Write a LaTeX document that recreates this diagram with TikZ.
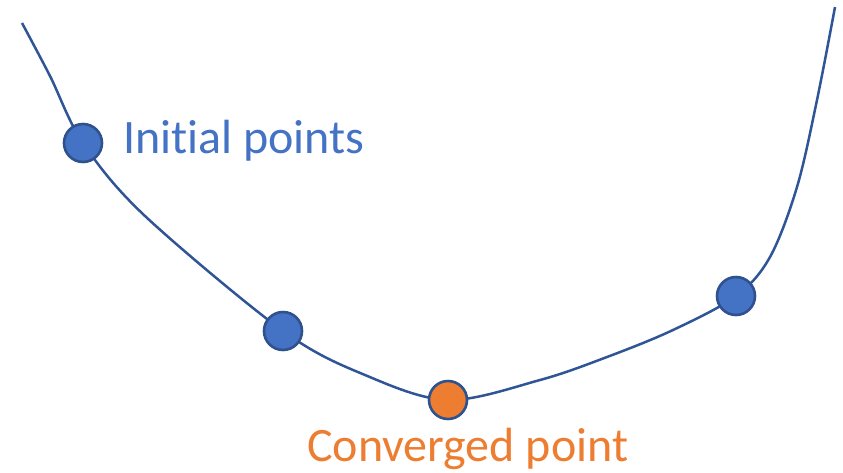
\documentclass[tikz,border=0pt]{standalone}
\usepackage{fontspec}
\setmainfont{Carlito}[Ligatures={NoCommon,NoContextual}]
\definecolor{ptblue}{HTML}{4472C4}
\definecolor{ptedge}{HTML}{2F528F}
\definecolor{ptline}{HTML}{2F5597}
\definecolor{ptorange}{HTML}{ED7D31}
\tikzset{
  pt/.style={circle, draw=ptedge, line width=2.6pt, fill=ptblue, minimum size=38pt, inner sep=0pt},
  ptconv/.style={pt, fill=ptorange},
  lbl/.style={anchor=base west, inner sep=0pt, font=\fontsize{48}{58}\selectfont},
  curve/.style={draw=ptline, line width=2.5pt}
}
\begin{document}
\begin{tikzpicture}[x=1pt,y=-1pt]
\useasboundingbox (0,0) rectangle (843,472);
\coordinate (c1) at (83,143);
\coordinate (c2) at (283,331);
\coordinate (c3) at (448,400);
\coordinate (c4) at (736,296);
\coordinate (s) at (22,23);
\coordinate (e) at (835,7);
\draw[curve] plot[smooth, tension=0.55] coordinates {(s) (50,76) (c1) (145,216) (c2) (365,375) (c3) (540,380) (607,357) (673,330) (c4) (770,257) (797,187) (817,100) (e)};
\node[pt] (p1) at (c1) {};
\node[pt] (p2) at (c2) {};
\node[ptconv] (p3) at (c3) {};
\node[pt] (p4) at (c4) {};
\node[lbl, text=ptblue] (t1) at (123,153) {Initial points};
\node[lbl, text=ptorange] (t2) at (307,461) {Converged point};
\end{tikzpicture}
\end{document}
